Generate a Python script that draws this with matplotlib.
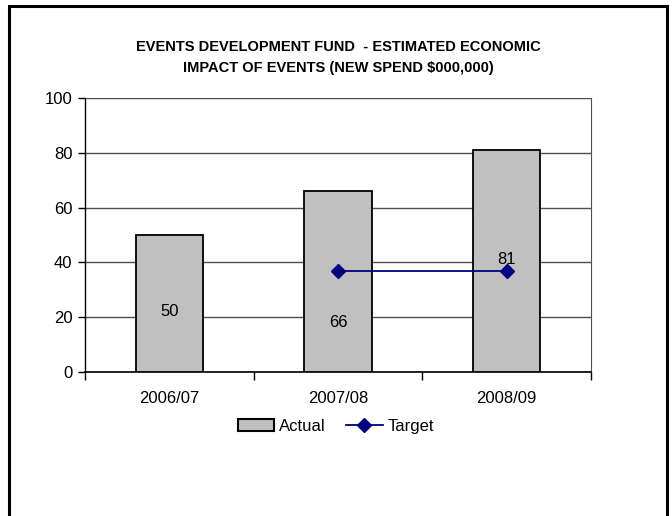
import matplotlib.pyplot as plt
from matplotlib import font_manager
from matplotlib.patches import Rectangle
from matplotlib.lines import Line2D
import numpy as np

# fiscal years and values ($000,000 of new spend)
years = ["2006/07", "2007/08", "2008/09"]
actual = [50, 66, 81]
target = [np.nan, 37, 37]
label_y = [22, 18, 41]   # where the value labels sit inside the bars

names = {f.name for f in font_manager.fontManager.ttflist}
family = "Liberation Sans Narrow" if "Liberation Sans Narrow" in names else "Liberation Sans"
plt.rcParams["font.family"] = [family, "DejaVu Sans"]

C_BAR = "#c0c0c0"
C_TARGET = "#000080"
C_GRID = "#505050"

fig = plt.figure(figsize=(6.72, 5.16), dpi=100)
ax = fig.add_axes([0.1265, 0.279, 0.753, 0.531])

x = np.arange(len(years))
ax.bar(x, actual, width=0.4, color=C_BAR, edgecolor="black", linewidth=1.3, zorder=3)
ax.plot(x, target, color=C_TARGET, lw=1.3, marker="D", markersize=7,
        markerfacecolor=C_TARGET, markeredgecolor=C_TARGET, zorder=4)

for xi, v, ly in zip(x, actual, label_y):
    ax.text(xi, ly, f"{v}", ha="center", va="center", fontsize=12, zorder=5)

ax.set_xlim(-0.5, len(years) - 0.5)
ax.set_ylim(0, 100)
ax.set_yticks(range(0, 101, 20))
ax.yaxis.grid(True, color=C_GRID, lw=1.0, zorder=0)
ax.tick_params(axis="y", direction="out", length=5, width=1, labelsize=12, pad=4)

# boundary ticks on the x axis, category names between them
ax.set_xticks(np.arange(-0.5, len(years)), labels=[""] * (len(years) + 1))
ax.set_xticks(x, labels=years, minor=True)
ax.tick_params(axis="x", which="major", direction="out", length=6, width=1)
ax.tick_params(axis="x", which="minor", length=0, labelsize=12, pad=14)

ax.spines["top"].set_visible(False)
ax.spines["right"].set_color(C_GRID)
ax.spines["left"].set_linewidth(1.0)
ax.spines["bottom"].set_linewidth(1.2)

fig.text(0.503, 0.889, "EVENTS DEVELOPMENT FUND  - ESTIMATED ECONOMIC\nIMPACT OF EVENTS (NEW SPEND $000,000)",
         ha="center", va="center", fontsize=10.5, fontweight="bold", linespacing=1.65)

handles = [Rectangle((0, 0), 1, 1, facecolor=C_BAR, edgecolor="black", lw=1.5),
           Line2D([], [], color=C_TARGET, lw=1.3, marker="D", markersize=7)]
fig.legend(handles, ["Actual", "Target"], loc="center", bbox_to_anchor=(0.5, 0.174),
           ncol=2, frameon=False, fontsize=12, handlelength=2.2, handletextpad=0.3,
           columnspacing=1.2)

# outer chart frame
fig.patches.append(Rectangle((0.013, -0.05), 0.98, 1.038, transform=fig.transFigure,
                             fill=False, edgecolor="black", lw=2.2))

fig.savefig("out.png", dpi=100)
